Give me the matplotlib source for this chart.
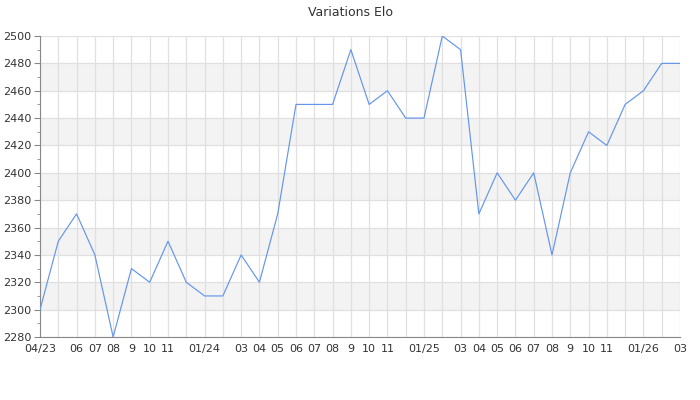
import matplotlib
matplotlib.use("Agg")
import matplotlib.pyplot as plt
from matplotlib.ticker import MultipleLocator

# one point per month, 04/23 .. 03/26
elo = [2300, 2350, 2370, 2340, 2280, 2330, 2320, 2350, 2320, 2310, 2310, 2340,
       2320, 2370, 2450, 2450, 2450, 2490, 2450, 2460, 2440, 2440, 2500, 2490,
       2370, 2400, 2380, 2400, 2340, 2400, 2430, 2420, 2450, 2460, 2480, 2480]
month_labels = ["04/23", "", "06", "07", "08", "9", "10", "11", "", "01/24", "", "03",
                "04", "05", "06", "07", "08", "9", "10", "11", "", "01/25", "", "03",
                "04", "05", "06", "07", "08", "9", "10", "11", "", "01/26", "", "03"]

months = list(range(len(elo)))

fig = plt.figure(figsize=(7, 4), dpi=100)
ax = fig.add_axes([40 / 700, 1 - 337 / 400, 640 / 700, 301 / 400])

# alternating bands
for lo in range(2300, 2500, 40):
    ax.axhspan(lo, lo + 20, color="#f3f3f3", zorder=0, lw=0)

ax.plot(months, elo, color="#6495ed", lw=0.85, zorder=3)

ax.set_xlim(0, len(elo) - 1)
ax.set_ylim(2280, 2500)
ax.set_xticks(months)
ax.set_xticklabels(month_labels)
ax.yaxis.set_major_locator(MultipleLocator(20))
ax.yaxis.set_minor_locator(MultipleLocator(10))

ax.grid(True, color="#e0e0e0", lw=0.9, zorder=1)
ax.set_axisbelow(True)
for s in ["top", "right"]:
    ax.spines[s].set_visible(False)
for s in ["left", "bottom"]:
    ax.spines[s].set_color("#888888")
ax.tick_params(axis="x", length=0, pad=5, labelsize=8, labelcolor="#333333")
ax.tick_params(axis="y", which="major", length=4, color="#888888",
               labelsize=8, labelcolor="#333333", pad=2)
ax.tick_params(axis="y", which="minor", length=2.5, color="#888888")

fig.text(0.5, 1 - 12 / 400, "Variations Elo", ha="center", va="center",
         fontsize=9, color="#333333")

fig.savefig("out.png")
